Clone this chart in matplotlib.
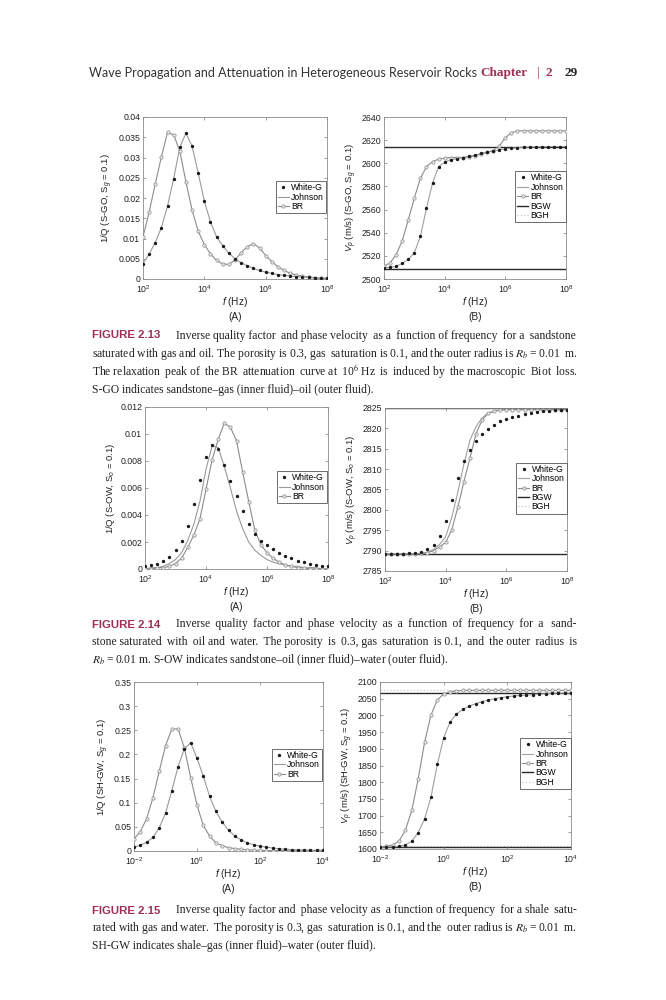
import matplotlib
matplotlib.use('Agg')
import matplotlib.pyplot as plt
from matplotlib.ticker import FuncFormatter, NullLocator
import numpy as np

plt.rcParams['font.family'] = ['Liberation Sans', 'DejaVu Sans']
plt.rcParams['mathtext.fontset'] = 'custom'
plt.rcParams['mathtext.rm'] = 'Liberation Sans'
plt.rcParams['mathtext.it'] = 'Liberation Sans:italic'
plt.rcParams['mathtext.bf'] = 'Liberation Sans:bold'

# log10 of frequency (Hz), figs 2.13 / 2.14
logf_sand = [2.0, 2.2, 2.4, 2.6, 2.8, 3.0, 3.2, 3.4, 3.6, 3.8, 4.0, 4.2, 4.4, 4.6, 4.8, 5.0,
             5.2, 5.4, 5.6, 5.8, 6.0, 6.2, 6.4, 6.6, 6.8, 7.0, 7.2, 7.4, 7.6, 7.8, 8.0]
# log10 of frequency (Hz), fig 2.15
logf_shale = [-2.0, -1.8, -1.6, -1.4, -1.2, -1.0, -0.8, -0.6, -0.4, -0.2, 0.0, 0.2, 0.4, 0.6, 0.8, 1.0,
              1.2, 1.4, 1.6, 1.8, 2.0, 2.2, 2.4, 2.6, 2.8, 3.0, 3.2, 3.4, 3.6, 3.8, 4.0]

# FIGURE 2.13 (S-GO)
q13_white = [0.0038, 0.0062, 0.0090, 0.0127, 0.0180, 0.0248, 0.0325, 0.0360, 0.0328, 0.0262, 0.0192,
             0.0141, 0.0104, 0.0082, 0.0064, 0.0050, 0.0040, 0.0033, 0.0026, 0.0021, 0.0017, 0.0014,
             0.0011, 0.0009, 0.0007, 0.0006, 0.0005, 0.0004, 0.0003, 0.0002, 0.0002]
q13_johnson = [0.0038, 0.0062, 0.0090, 0.0127, 0.0180, 0.0248, 0.0325, 0.0360, 0.0328, 0.0262, 0.0192,
               0.0141, 0.0104, 0.0082, 0.0064, 0.0050, 0.0040, 0.0033, 0.0026, 0.0021, 0.0017, 0.0014,
               0.0011, 0.0009, 0.0007, 0.0006, 0.0005, 0.0004, 0.0003, 0.0002, 0.0002]
q13_br = [0.0104, 0.0165, 0.0235, 0.0302, 0.0362, 0.0356, 0.0316, 0.0240, 0.0170, 0.0118, 0.0085,
          0.0062, 0.0046, 0.0037, 0.0036, 0.0047, 0.0065, 0.0080, 0.0087, 0.0077, 0.0058, 0.0043,
          0.0030, 0.0021, 0.0014, 0.0010, 0.0007, 0.0005, 0.0003, 0.0002, 0.0001]
v13_white = [2509.5, 2510, 2511, 2513.5, 2517, 2522.5, 2537, 2561, 2583, 2597, 2601, 2603, 2604, 2605,
             2606, 2607, 2608.5, 2609.5, 2610.5, 2611.5, 2612.5, 2613, 2613.5, 2614, 2614, 2614.2,
             2614.3, 2614.4, 2614.5, 2614.5, 2614.5]
v13_johnson = [2509.5, 2510, 2511, 2513.5, 2517, 2522.5, 2537, 2561, 2583, 2597, 2601, 2603, 2604, 2605,
               2606, 2607, 2608.5, 2609.5, 2610.5, 2611.5, 2612.5, 2613, 2613.5, 2614, 2614, 2614.2,
               2614.3, 2614.4, 2614.5, 2614.5, 2614.5]
v13_br = [2511, 2514, 2521, 2533, 2551, 2570, 2587, 2597, 2601.5, 2603.5, 2604.5, 2605, 2605, 2605,
          2605.5, 2606.5, 2608, 2609.5, 2611, 2615, 2622, 2626.5, 2628, 2628, 2628, 2628, 2628, 2628,
          2628, 2628, 2628]
v13_bgw = [2509, 2614]
v13_bgh = [2509, 2614]

# FIGURE 2.14 (S-OW)
q14_white = [0.0002, 0.0003, 0.0004, 0.0006, 0.0009, 0.0014, 0.0021, 0.0032, 0.0048, 0.0066, 0.0083,
             0.0092, 0.0089, 0.0077, 0.0065, 0.0054, 0.0043, 0.0033, 0.0026, 0.0021, 0.0018, 0.0015,
             0.0012, 0.0010, 0.0008, 0.0006, 0.0005, 0.0004, 0.0003, 0.0002, 0.0002]
q14_johnson = [0.0000, 0.0001, 0.0001, 0.0002, 0.0004, 0.0007, 0.0012, 0.0021, 0.0033, 0.0050, 0.0074,
               0.0091, 0.0090, 0.0076, 0.0060, 0.0043, 0.0030, 0.0020, 0.0014, 0.0010, 0.0007, 0.0005,
               0.0004, 0.0003, 0.0002, 0.0002, 0.0001, 0.0001, 0.0001, 0.0000, 0.0000]
q14_br = [0.0000, 0.0000, 0.0001, 0.0001, 0.0002, 0.0004, 0.0008, 0.0016, 0.0025, 0.0037, 0.0059,
          0.0081, 0.0096, 0.0108, 0.0105, 0.0095, 0.0072, 0.0050, 0.0029, 0.0018, 0.0012, 0.0008,
          0.0005, 0.0003, 0.0002, 0.0001, 0.0001, 0.0000, 0.0000, 0.0000, 0.0000]
v14_white = [2789.2, 2789.2, 2789.2, 2789.2, 2789.3, 2789.4, 2789.7, 2790.3, 2791.3, 2793.7, 2797.2,
             2802.4, 2807.8, 2812.0, 2814.7, 2817.0, 2818.5, 2819.8, 2820.9, 2821.7, 2822.3, 2822.7,
             2823.1, 2823.5, 2823.8, 2824.0, 2824.2, 2824.3, 2824.4, 2824.5, 2824.6]
v14_johnson = [2789.2, 2789.2, 2789.2, 2789.2, 2789.2, 2789.2, 2789.3, 2789.6, 2790.3, 2791.5, 2793.4,
               2798.1, 2804.3, 2811.2, 2817.1, 2820.4, 2822.6, 2823.7, 2824.2, 2824.5, 2824.6, 2824.6,
               2824.6, 2824.6, 2824.6, 2824.6, 2824.6, 2824.6, 2824.6, 2824.6, 2824.6]
v14_br = [2789.2, 2789.2, 2789.2, 2789.2, 2789.2, 2789.2, 2789.3, 2789.5, 2790.0, 2790.9, 2792.0,
          2795.1, 2800.6, 2806.9, 2812.7, 2818.7, 2822.0, 2823.7, 2824.3, 2824.5, 2824.6, 2824.6,
          2824.6, 2824.6, 2824.6, 2824.6, 2824.6, 2824.6, 2824.6, 2824.6, 2824.6]
v14_bgw = [2789.2, 2825.0]
v14_bgh = [2789.2, 2825.0]

# FIGURE 2.15 (SH-GW)
q15_white = [0.008, 0.012, 0.018, 0.028, 0.048, 0.078, 0.125, 0.175, 0.212, 0.224, 0.192, 0.155, 0.113,
             0.082, 0.060, 0.043, 0.031, 0.023, 0.017, 0.013, 0.010, 0.0078, 0.0062, 0.0048, 0.0038,
             0.0031, 0.0026, 0.0021, 0.0018, 0.0016, 0.0014]
q15_johnson = [0.008, 0.012, 0.018, 0.028, 0.048, 0.078, 0.125, 0.175, 0.212, 0.224, 0.192, 0.155, 0.113,
               0.082, 0.060, 0.043, 0.031, 0.023, 0.017, 0.013, 0.010, 0.0078, 0.0062, 0.0048, 0.0038,
               0.0031, 0.0026, 0.0021, 0.0018, 0.0016, 0.0014]
q15_br = [0.025, 0.040, 0.067, 0.110, 0.165, 0.218, 0.252, 0.253, 0.213, 0.152, 0.095, 0.053, 0.031,
          0.017, 0.011, 0.007, 0.005, 0.0035, 0.0025, 0.0018, 0.0013, 0.0010, 0.0008, 0.0006, 0.0005,
          0.0004, 0.0003, 0.0002, 0.0002, 0.0001, 0.0001]
v15_white = [1605, 1606, 1607, 1608, 1612, 1624, 1649, 1690, 1755, 1853, 1933, 1980, 2004, 2018, 2028,
             2035, 2041, 2046, 2050, 2053, 2056, 2058, 2060, 2061, 2062.5, 2064, 2065, 2066, 2066.5,
             2067, 2067]
v15_johnson = [1605, 1606, 1607, 1608, 1612, 1624, 1649, 1690, 1755, 1853, 1933, 1980, 2004, 2018, 2028,
               2035, 2041, 2046, 2050, 2053, 2056, 2058, 2060, 2061, 2062.5, 2064, 2065, 2066, 2066.5,
               2067, 2067]
v15_br = [1606, 1609, 1612, 1624, 1657, 1716, 1810, 1919, 2001, 2046, 2064, 2071, 2073, 2075, 2075,
          2075, 2075, 2075, 2075, 2075, 2075, 2075, 2075, 2075, 2075, 2075, 2075, 2075, 2075, 2075, 2075]
v15_bgw = [1605, 2068]
v15_bgh = [1610, 2076]

header = 'Wave Propagation and Attenuation in Heterogeneous Reservoir Rocks'
cap13 = ['Inverse quality factor and phase velocity as a function of frequency for a sandstone',
         'saturated with gas and oil. The porosity is 0.3, gas saturation is 0.1, and the outer radius is $R_b$\u2009=\u20090.01 m.',
         'The relaxation peak of the BR attenuation curve at 10$^6$ Hz is induced by the macroscopic Biot loss.',
         'S-GO indicates sandstone\u2013gas (inner fluid)\u2013oil (outer fluid).']
cap14 = ['Inverse quality factor and phase velocity as a function of frequency for a sand-',
         'stone saturated with oil and water. The porosity is 0.3, gas saturation is 0.1, and the outer radius is',
         '$R_b$\u2009=\u20090.01 m. S-OW indicates sandstone\u2013oil (inner fluid)\u2013water (outer fluid).']
cap15 = ['Inverse quality factor and phase velocity as a function of frequency for a shale satu-',
         'rated with gas and water. The porosity is 0.3, gas saturation is 0.1, and the outer radius is $R_b$\u2009=\u20090.01 m.',
         'SH-GW indicates shale\u2013gas (inner fluid)\u2013water (outer fluid).']

W, H = 666, 1000
MAROON = '#9e2f57'
fig = plt.figure(figsize=(W / 100, H / 100), dpi=100)
fig.patch.set_facecolor('white')


def box(l, t, r, b):
    # page pixels -> figure fraction
    return [l / W, 1 - b / H, (r - l) / W, (b - t) / H]


def style(ax, xlim, xticks, ylim, yticks, ylabel, tag):
    ax.set_xscale('log')
    ax.set_xlim(xlim)
    ax.set_ylim(ylim)
    ax.set_xticks(xticks)
    ax.xaxis.set_minor_locator(NullLocator())
    ax.set_yticks(yticks)
    ax.yaxis.set_major_formatter(FuncFormatter(lambda v, p: '%g' % round(v, 6)))
    ax.tick_params(direction='in', top=True, right=True, length=2.5, width=0.5,
                   labelsize=6.3, color='#777777', labelcolor='#222222', pad=2)
    ax.tick_params(axis='x', pad=3.2)
    for s in ax.spines.values():
        s.set_color('#8a8a8a')
        s.set_linewidth(0.6)
    ax.set_ylabel(ylabel, fontsize=6.8, color='#222222', labelpad=2)
    ax.set_xlabel('$f$ (Hz)\n' + tag, fontsize=7.3, color='#222222', labelpad=0, linespacing=1.3)


def q_panel(rect, logf, white, johnson, br, xlim, xticks, ylim, yticks, ylabel, tag):
    ax = fig.add_axes(rect)
    f = 10.0 ** np.array(logf)
    h1, = ax.plot(f, white, ls='none', marker='.', ms=2.8, color='#1a1a1a', label='White-G', zorder=4)
    h2, = ax.plot(f, johnson, color='#9a9a9a', lw=0.8, label='Johnson', zorder=2)
    h3, = ax.plot(f, br, color='#8c8c8c', lw=0.8, marker='o', ms=2.4, mfc='#e6e6e6',
                  mec='#8c8c8c', mew=0.5, label='BR', zorder=3)
    style(ax, xlim, xticks, ylim, yticks, ylabel, tag)
    ax.legend(handles=[h1, h2, h3], loc='upper right', bbox_to_anchor=(0.995, 0.605),
              fontsize=6.2, frameon=True, fancybox=False, edgecolor='#555555', framealpha=1,
              borderpad=0.25, handlelength=1.3, handletextpad=0.25, labelspacing=0.05,
              borderaxespad=0.0).get_frame().set_linewidth(0.6)
    return ax


def v_panel(rect, logf, white, johnson, br, bgw, bgh, xlim, xticks, ylim, yticks, ylabel, tag):
    ax = fig.add_axes(rect)
    f = 10.0 ** np.array(logf)
    for v in bgh:
        h5 = ax.axhline(v, color='#bdbdbd', lw=0.8, ls=(0, (1, 2)), label='BGH', zorder=1)
    for v in bgw:
        h4 = ax.axhline(v, color='#2a2a2a', lw=1.0, label='BGW', zorder=1)
    h1, = ax.plot(f, white, ls='none', marker='.', ms=2.8, color='#1a1a1a', label='White-G', zorder=4)
    h2, = ax.plot(f, johnson, color='#a0a0a0', lw=0.8, label='Johnson', zorder=2)
    h3, = ax.plot(f, br, color='#8c8c8c', lw=0.8, marker='o', ms=2.4, mfc='#e6e6e6',
                  mec='#8c8c8c', mew=0.5, label='BR', zorder=3)
    style(ax, xlim, xticks, ylim, yticks, ylabel, tag)
    ax.legend(handles=[h1, h2, h3, h4, h5], loc='upper right', bbox_to_anchor=(0.998, 0.665),
              fontsize=6.2, frameon=True, fancybox=False, edgecolor='#555555', framealpha=1,
              borderpad=0.25, handlelength=1.3, handletextpad=0.25, labelspacing=0.05,
              borderaxespad=0.0).get_frame().set_linewidth(0.6)
    return ax


hi_x = (1e2, 1e8)
hi_ticks = [1e2, 1e4, 1e6, 1e8]
lo_x = (1e-2, 1e4)
lo_ticks = [1e-2, 1e0, 1e2, 1e4]

q_panel(box(143, 117, 327, 279), logf_sand, q13_white, q13_johnson, q13_br, hi_x, hi_ticks,
        (0, 0.04), np.arange(0, 0.0401, 0.005), r'1/Q (S-GO, $\mathrm{S}_g$ = 0.1)', '(A)')
v_panel(box(384, 117, 566, 279), logf_sand, v13_white, v13_johnson, v13_br, v13_bgw, v13_bgh,
        hi_x, hi_ticks, (2500, 2640), np.arange(2500, 2641, 20),
        r'$V_p$ (m/s) (S-GO, $\mathrm{S}_g$ = 0.1)', '(B)')

q_panel(box(145, 407, 328, 569), logf_sand, q14_white, q14_johnson, q14_br, hi_x, hi_ticks,
        (0, 0.012), np.arange(0, 0.01201, 0.002), r'1/Q (S-OW, $\mathrm{S}_o$ = 0.1)', '(A)')
v_panel(box(385, 408, 567, 571), logf_sand, v14_white, v14_johnson, v14_br, v14_bgw, v14_bgh,
        hi_x, hi_ticks, (2785, 2825), np.arange(2785, 2826, 5),
        r'$V_p$ (m/s) (S-OW, $\mathrm{S}_o$ = 0.1)', '(B)')

q_panel(box(134, 682, 323, 851), logf_shale, q15_white, q15_johnson, q15_br, lo_x, lo_ticks,
        (0, 0.35), np.arange(0, 0.3501, 0.05), r'1/Q (SH-GW, $\mathrm{S}_g$ = 0.1)', '(A)')
v_panel(box(380, 682, 571, 849), logf_shale, v15_white, v15_johnson, v15_br, v15_bgw, v15_bgh,
        lo_x, lo_ticks, (1600, 2100), np.arange(1600, 2101, 50),
        r'$V_p$ (m/s) (SH-GW, $\mathrm{S}_g$ = 0.1)', '(B)')

# running header
fig.text(89 / W, 1 - 73 / H, header, fontsize=9, family='Lato', color='#333333', va='center')
fig.text(480 / W, 1 - 73 / H, 'Chapter', fontsize=9.5, family='Liberation Serif', weight='bold',
         color=MAROON, va='center')
fig.text(537 / W, 1 - 73 / H, '|', fontsize=9.5, family='Liberation Serif', color=MAROON, va='center')
fig.text(546 / W, 1 - 73 / H, '2', fontsize=9.5, family='Liberation Serif', weight='bold',
         color=MAROON, va='center')
fig.text(578 / W, 1 - 73 / H, '29', fontsize=9.5, family='Liberation Serif', weight='bold',
         color='#222222', va='center', ha='right')

renderer = fig.canvas.get_renderer()
cap_kw = dict(family='Liberation Serif', color='#222222', va='baseline', math_fontfamily='stix')
X_LEFT, X_FIRST, X_RIGHT = 92, 176, 578
BASE = 3.5  # baseline sits this many px below the line's middle
THIN = '\u2009'


def natural_width(line, size):
    t = fig.text(0, 0, line, fontsize=size, **cap_kw)
    w = t.get_window_extent(renderer).width
    t.remove()
    return w


# pick the caption size so the fullest line just fits the measure
fits = []
for cap in (cap13, cap14, cap15):
    for i, line in enumerate(cap[:-1]):
        room = X_RIGHT - (X_FIRST if i == 0 else X_LEFT)
        fits.append(10 * room / natural_width(line, 10))
cap_size = min(fits) * 0.99


def padded(words, k):
    # spread k thin spaces evenly over the word gaps
    gaps = len(words) - 1
    s = words[0]
    for i, w in enumerate(words[1:]):
        n = (i + 1) * k // gaps - i * k // gaps
        s += ' ' + THIN * n + w
    return s


def justified(line, x0, x1, y):
    words = line.split(' ')
    room = x1 - x0
    k = 0
    while natural_width(padded(words, k + 1), cap_size) <= room:
        k += 1
    fig.text(x0 / W, 1 - (y + BASE) / H, padded(words, k), fontsize=cap_size, **cap_kw)


def caption(num, lines, y0, step=18):
    fig.text(X_LEFT / W, 1 - (y0 + BASE) / H, 'FIGURE ' + num, fontsize=8.2, weight='bold',
             color=MAROON, va='baseline', family='Liberation Sans')
    for i, line in enumerate(lines):
        y = y0 + i * step
        x0 = X_FIRST if i == 0 else X_LEFT
        if i < len(lines) - 1:
            justified(line, x0, X_RIGHT, y)
        else:
            fig.text(x0 / W, 1 - (y + BASE) / H, line, fontsize=cap_size, **cap_kw)


caption('2.13', cap13, 335)
caption('2.14', cap14, 624)
caption('2.15', cap15, 910, step=17.5)

fig.savefig('out.png', dpi=100, facecolor='white')
